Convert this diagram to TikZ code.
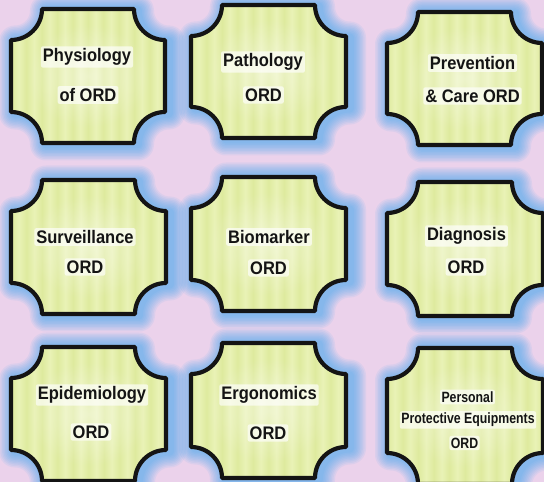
\documentclass[tikz,border=0pt]{standalone}
\usepackage{fontspec}
\setmainfont{Liberation Sans}
\usetikzlibrary{fadings}
\definecolor{bgpink}{HTML}{EBD2EB}
\definecolor{glowblue}{HTML}{3AA6F0}
\definecolor{tileA}{HTML}{DEEA9E}
\definecolor{tileB}{HTML}{E9F2B6}
\definecolor{ink}{HTML}{141414}
\pgfdeclarehorizontalshading{ordstripes}{100bp}{color(0bp)=(tileA); color(2.5bp)=(tileB); color(5bp)=(tileA); color(7.5bp)=(tileB); color(10bp)=(tileA); color(12.5bp)=(tileB); color(15bp)=(tileA); color(17.5bp)=(tileB); color(20bp)=(tileA); color(22.5bp)=(tileB); color(25bp)=(tileA); color(27.5bp)=(tileB); color(30bp)=(tileA); color(32.5bp)=(tileB); color(35bp)=(tileA); color(37.5bp)=(tileB); color(40bp)=(tileA); color(42.5bp)=(tileB); color(45bp)=(tileA); color(47.5bp)=(tileB); color(50bp)=(tileA); color(52.5bp)=(tileB); color(55bp)=(tileA); color(57.5bp)=(tileB); color(60bp)=(tileA); color(62.5bp)=(tileB); color(65bp)=(tileA); color(67.5bp)=(tileB); color(70bp)=(tileA); color(72.5bp)=(tileB); color(75bp)=(tileA); color(77.5bp)=(tileB); color(80bp)=(tileA); color(82.5bp)=(tileB); color(85bp)=(tileA); color(87.5bp)=(tileB); color(90bp)=(tileA); color(92.5bp)=(tileB); color(95bp)=(tileA); color(97.5bp)=(tileB); color(100bp)=(tileA)}
\tikzfading[name=softcenter, inner color=transparent!0, outer color=transparent!100]
\tikzset{
  lbl/.style={font=\bfseries\fontsize{16.5}{19}\selectfont, text=ink, fill=white, fill opacity=0.65, text opacity=1, rounded corners=2pt, inner sep=2pt, yscale=1.1, transform shape},
  lblsmall/.style={lbl, font=\bfseries\fontsize{12.3}{14}\selectfont, inner sep=1.5pt, yscale=1.1},
  glowline/.style={glowblue, line join=round, opacity=0.085},
  tileborder/.style={ink, line width=4.2pt, line join=round}
}
\newcommand\ordtile[4]{%
  \def\tpath{(#1+31,482-#2) -- (#3-31,482-#2) arc[start angle=180,end angle=270,radius=31pt] -- (#3,482-#4+31) arc[start angle=90,end angle=180,radius=31pt] -- (#1+31,482-#4) arc[start angle=0,end angle=90,radius=31pt] -- (#1,482-#2-31) arc[start angle=270,end angle=360,radius=31pt] -- cycle}%
  \begin{scope}[xshift=4pt,yshift=-1.5pt]
    \foreach \gw in {32,29,26,23,20,17,14,11,8}{\draw[glowline,line width=\gw pt] \tpath;}
  \end{scope}
  \shade[shading=ordstripes] \tpath;
  \fill[white,opacity=0.45,path fading=softcenter] ({(#1+#3)/2},{482-(#2+#4)/2}) ellipse (62pt and 52pt);
  \draw[tileborder] \tpath;
}
\begin{document}
\begin{tikzpicture}[x=1pt,y=1pt]
\useasboundingbox (0,0) rectangle (544,482);
\fill[bgpink] (0,0) rectangle (544,482);
% row 1
\ordtile{11}{9}{165}{143}
\ordtile{191}{5}{346}{138}
\ordtile{387}{12}{542}{145}
% row 2
\ordtile{11}{180}{166}{314}
\ordtile{191}{177}{346}{311}
\ordtile{387}{182}{543}{316}
% row 3
\ordtile{11}{347}{166}{481}
\ordtile{191}{343}{346}{478}
\ordtile{387}{348}{543}{484}
% labels
\node[lbl] (phy1) at (87,482-57) {Physiology};
\node[lbl] (phy2) at (88,482-95) {of ORD};
\node[lbl] (pat1) at (263,482-62) {Pathology};
\node[lbl] (pat2) at (263.5,482-95) {ORD};
\node[lbl] (pre1) at (472.5,482-63) {Prevention};
\node[lbl] (pre2) at (472.5,482-96) {\& Care ORD};
\node[lbl] (sur1) at (85,482-237) {Surveillance};
\node[lbl] (sur2) at (85,482-267) {ORD};
\node[lbl] (bio1) at (269,482-237) {Biomarker};
\node[lbl] (bio2) at (268.5,482-268) {ORD};
\node[lbl] (dia1) at (466.5,482-236) {Diagnosis};
\node[lbl] (dia2) at (466,482-267) {ORD};
\node[lbl] (epi1) at (92,482-395) {Epidemiology};
\node[lbl] (epi2) at (91,482-432) {ORD};
\node[lbl] (erg1) at (269,482-395) {Ergonomics};
\node[lbl] (erg2) at (268,482-433) {ORD};
\node[lblsmall] (ppe1) at (467.5,482-397) {Personal};
\node[lblsmall] (ppe2) at (468,482-420) {Protective Equipments};
\node[lblsmall] (ppe3) at (464.5,482-443) {ORD};
\end{tikzpicture}
\end{document}
